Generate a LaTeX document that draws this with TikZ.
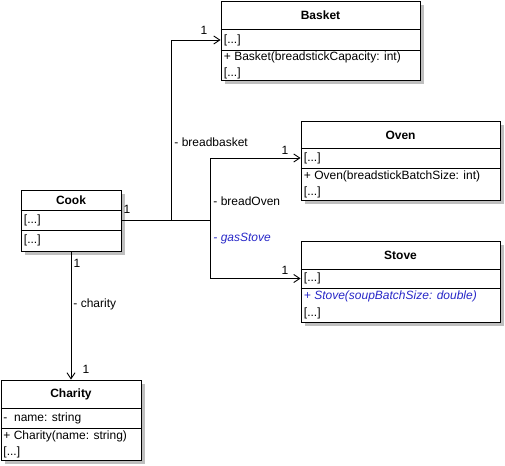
\documentclass[tikz,border=0pt]{standalone}
\usepackage{fontspec}
\setmainfont{Liberation Sans}
\usetikzlibrary{arrows.meta,shadows}
\definecolor{abstractblue}{RGB}{40,40,200}

\begin{document}
\begin{tikzpicture}[x=1pt, y=-1pt, line width=0.9pt,
    every node/.style={font=\fontsize{12}{14}\selectfont, inner sep=0pt},
    classbox/.style={draw, fill=white, drop shadow={shadow xshift=4pt, shadow yshift=-4pt, fill=black!25, opacity=1}},
    title/.style={font=\fontsize{12}{14}\selectfont\bfseries},
    member/.style={anchor=west},
    abstract/.style={anchor=west, text=abstractblue, font=\fontsize{12}{14}\selectfont\itshape},
    assoc/.style={-{Straight Barb[length=6pt,width=8pt]}}]
    \useasboundingbox (0,0) rectangle (505,465);

    % class boxes
    \node[classbox, minimum width=199, minimum height=79] (basket) at (320.5,40.5) {};
    \node[classbox, minimum width=199, minimum height=79] (oven) at (400.5,160.5) {};
    \node[classbox, minimum width=199, minimum height=81] (stove) at (400.5,281.5) {};
    \node[classbox, minimum width=100, minimum height=61] (cook) at (71,220.5) {};
    \node[classbox, minimum width=140, minimum height=80] (charity) at (71,420) {};

    % compartments
    \draw (basket.west |- 0,29) -- (basket.east |- 0,29);
    \draw (basket.west |- 0,50) -- (basket.east |- 0,50);
    \draw (oven.west |- 0,148) -- (oven.east |- 0,148);
    \draw (oven.west |- 0,168) -- (oven.east |- 0,168);
    \draw (stove.west |- 0,269) -- (stove.east |- 0,269);
    \draw (stove.west |- 0,288) -- (stove.east |- 0,288);
    \draw (cook.west |- 0,210) -- (cook.east |- 0,210);
    \draw (cook.west |- 0,230.5) -- (cook.east |- 0,230.5);
    \draw (charity.west |- 0,408) -- (charity.east |- 0,408);
    \draw (charity.west |- 0,428) -- (charity.east |- 0,428);

    % Basket
    \node[title] (basketT) at (320.5,15) {Basket};
    \node[member] (basketA) at (223.5,40) {[...]};
    \node[member] (basketO) at (223.5,57) {+ Basket(breadstickCapacity: int)};
    \node[member] (basketM) at (223.5,73) {[...]};

    % Oven
    \node[title] (ovenT) at (400.5,135) {Oven};
    \node[member] (ovenA) at (303.5,158) {[...]};
    \node[member] (ovenO) at (303.5,176) {+ Oven(breadstickBatchSize: int)};
    \node[member] (ovenM) at (303.5,192) {[...]};

    % Stove
    \node[title] (stoveT) at (400.5,255) {Stove};
    \node[member] (stoveA) at (303.5,278.5) {[...]};
    \node[abstract] (stoveO) at (303.5,296) {+ Stove(soupBatchSize: double)};
    \node[member] (stoveM) at (303.5,313) {[...]};

    % Cook
    \node[title] (cookT) at (71,200) {Cook};
    \node[member] (cookA) at (23.5,220) {[...]};
    \node[member] (cookO) at (23.5,240.5) {[...]};

    % Charity
    \node[title] (charityT) at (71,394) {Charity};
    \node[member] (charityA) at (3,418) {-\ \ name: string};
    \node[member] (charityO) at (3,436.5) {+ Charity(name: string)};
    \node[member] (charityM) at (3,452) {[...]};

    % associations
    \coordinate (j1) at (171,220.5);
    \coordinate (j2) at (210,220.5);
    \draw (cook.east) -- (j2);
    \draw[assoc] (j1) |- (basket.west |- basketA);
    \draw[assoc] (j2) |- (oven.west |- ovenA);
    \draw[assoc] (j2) |- (stove.west |- stoveA);
    \draw[assoc] (cook.south) -- (cook.south |- charity.north);

    % roles and multiplicities
    \node[member] (rBasket) at (174,142) {- breadbasket};
    \node[member] (rOven) at (213,201) {- breadOven};
    \node[abstract] (rStove) at (213,239) {- gasStove};
    \node[member] (rCharity) at (73,304) {- charity};
    \node (m1) at (127,209) {1};
    \node (m2) at (204,30) {1};
    \node (m3) at (285,150) {1};
    \node (m4) at (285,270) {1};
    \node (m5) at (77,263) {1};
    \node (m6) at (86,369) {1};
\end{tikzpicture}
\end{document}
